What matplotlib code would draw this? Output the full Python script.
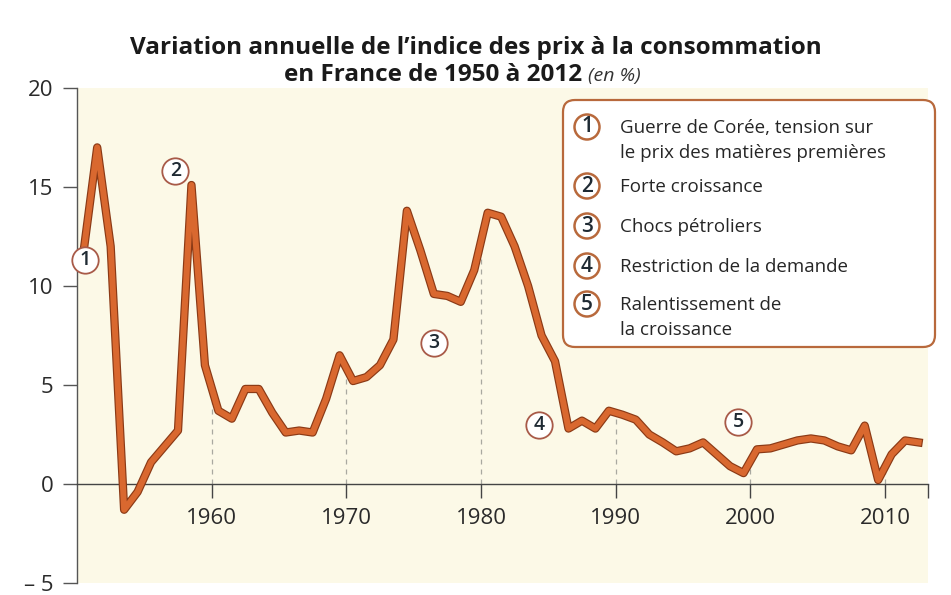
#Variation annuelle de l'indice des prix a la consommation en France, 1950-2012
import numpy as np
import matplotlib
matplotlib.use("Agg")
import matplotlib.pyplot as plt
from matplotlib import patheffects as pe
from matplotlib.patches import FancyBboxPatch, Circle

#values (en %)
years = list(range(1950, 2013))
inflation = [11.8, 17.0, 12.0, -1.3, -0.4, 1.1, 1.9, 2.7, 15.1, 6.0,
             3.7, 3.3, 4.8, 4.8, 3.6, 2.6, 2.7, 2.6, 4.3, 6.5,
             5.2, 5.4, 6.0, 7.3, 13.8, 11.8, 9.6, 9.5, 9.2, 10.8,
             13.7, 13.5, 12.0, 10.0, 7.5, 6.2, 2.8, 3.2, 2.8, 3.7,
             3.5, 3.25, 2.5, 2.1, 1.65, 1.8, 2.1, 1.5, 0.9, 0.55,
             1.75, 1.8, 2.0, 2.2, 2.3, 2.2, 1.9, 1.7, 2.95, 0.2,
             1.5, 2.2, 2.1]

decades = [1960, 1970, 1980, 1990, 2000, 2010]
yticks = [-5, 0, 5, 10, 15, 20]
ytick_labels = ["\u2013 5", "0", "5", "10", "15", "20"]

title1 = "Variation annuelle de l\u2019indice des prix \u00e0 la consommation"
title2 = "en France de 1950 \u00e0 2012 "
title2_unit = "(en %)"

#numbered events: label, position on the chart (year, %)
markers = ["1", "2", "3", "4", "5"]
marker_x = [1950.6, 1957.3, 1976.5, 1984.3, 1999.1]
marker_y = [11.3, 15.8, 7.1, 3.0, 3.15]

legend_lines = [["Guerre de Cor\u00e9e, tension sur", "le prix des mati\u00e8res premi\u00e8res"],
                ["Forte croissance"],
                ["Chocs p\u00e9troliers"],
                ["Restriction de la demande"],
                ["Ralentissement de", "la croissance"]]

W, H = 951, 595
LINE = "#d9682f"
EDGE = "#8b3a16"
BROWN = "#b8693c"
TEXT_FONT = ["Open Sans", "DejaVu Sans"]

def fx(px):
    return px / W

def fy(py):
    return 1 - py / H

fig = plt.figure(figsize=(W / 100, H / 100), dpi=100)
fig.patch.set_facecolor("white")
ax = fig.add_axes([fx(77), fy(583), fx(928) - fx(77), fy(88) - fy(583)])
ax.set_facecolor("#fcf9e7")
ax.set_xlim(1950, 2013.2)
ax.set_ylim(-5, 20)

#points are placed in the middle of each year
xs = np.array(years) + 0.5
ys = np.array(inflation)

#dashed guides from the zero line up to the curve at each decade
for d in decades:
    v = np.interp(d, xs, ys)
    ax.plot([d, d], [0, v], color="#a9a9a0", lw=0.9, ls=(0, (4, 4)), zorder=1)

ax.plot(xs, ys, color=LINE, lw=4.3, solid_joinstyle="round", zorder=3,
        path_effects=[pe.Stroke(linewidth=6.0, foreground=EDGE, joinstyle="round"),
                      pe.Normal()])

#axes
for s in ["top", "right"]:
    ax.spines[s].set_visible(False)
ax.spines["bottom"].set_position(("data", 0))
ax.spines["left"].set_color("#555555")
ax.spines["bottom"].set_color("#444444")
ax.spines["left"].set_linewidth(1.0)
ax.spines["bottom"].set_linewidth(1.0)

ax.set_yticks(yticks)
ax.set_yticklabels(ytick_labels)
ax.set_xticks(decades)
ax.set_xticklabels([str(d) for d in decades])
ax.set_xticks([2013.2], minor=True)
ax.tick_params(axis="y", direction="out", length=10, width=1, pad=7,
               labelsize=16, colors="#555555", labelcolor="#2a2a2a")
ax.tick_params(axis="x", which="both", direction="out", length=10, width=1, pad=7,
               labelsize=16, colors="#444444", labelcolor="#2a2a2a")
for lab in ax.get_xticklabels() + ax.get_yticklabels():
    lab.set_family(TEXT_FONT)

#numbered circles on the chart
ax.plot(marker_x, marker_y, "o", ms=19, mfc="white", mec="#a85a48", mew=1.3,
        zorder=5, clip_on=False)
for m, mx, my in zip(markers, marker_x, marker_y):
    ax.text(mx, my, m, ha="center", va="center", fontsize=14, fontweight="semibold",
            color="#1f2a33", family=TEXT_FONT, zorder=6)

#title
fig.text(0.5, fy(54), title1, ha="center", va="baseline", fontsize=17.5,
         fontweight="bold", color="#1a1a1a", family=TEXT_FONT)
renderer = fig.canvas.get_renderer()
t2 = fig.text(0, fy(81), title2, ha="left", va="baseline", fontsize=17.5,
              fontweight="bold", color="#1a1a1a", family=TEXT_FONT)
t3 = fig.text(0, fy(81), title2_unit, ha="left", va="baseline", fontsize=14,
              style="italic", color="#333333", family=TEXT_FONT)
w2 = t2.get_window_extent(renderer).width
w3 = t3.get_window_extent(renderer).width
start = 462 - (w2 + w3) / 2
t2.set_x(fx(start))
t3.set_x(fx(start + w2))

#legend box
box = FancyBboxPatch((5.63, (H - 347) / 100), 3.72, 2.47,
                     boxstyle="round,pad=0,rounding_size=0.12",
                     transform=fig.dpi_scale_trans, facecolor="white",
                     edgecolor=BROWN, lw=1.6, zorder=10)
fig.patches.append(box)

circle_y = [127, 186, 226, 266, 304]
for m, cy, lines in zip(markers, circle_y, legend_lines):
    c = Circle((5.87, (H - cy) / 100), 0.125, transform=fig.dpi_scale_trans,
               facecolor="white", edgecolor=BROWN, lw=1.8, zorder=11)
    fig.patches.append(c)
    fig.text(fx(587), fy(cy), m, ha="center", va="center", fontsize=15,
             fontweight="semibold", color="#1f2a33", family=TEXT_FONT, zorder=12)
    for i, line in enumerate(lines):
        fig.text(fx(620), fy(cy + 1 + 25 * i), line, ha="left", va="center",
                 fontsize=13.5, color="#262626", family=TEXT_FONT, zorder=12)

fig.savefig("out.png", dpi=100, facecolor=fig.get_facecolor())
